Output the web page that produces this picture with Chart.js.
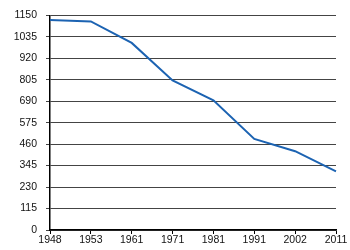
<!DOCTYPE html>
<html><head><meta charset="utf-8">
<script src="https://cdn.jsdelivr.net/npm/chart.js@4/dist/chart.umd.min.js"></script>
<style>html,body{margin:0;padding:0;background:#fff}#wrap{width:350px;height:250px}</style>
</head><body><div id="wrap"><canvas id="c" width="350" height="250"></canvas></div>
<script>
const years = ['1948','1953','1961','1971','1981','1991','2002','2011'];
const population = [1125, 1117, 1002, 801, 695, 488, 422, 314];
const yTicks = [0,115,230,345,460,575,690,805,920,1035,1150];

new Chart(document.getElementById('c'), {
  type: 'line',
  data: { labels: years, datasets: [{ data: population, borderColor: '#1c63b2', borderWidth: 2, pointRadius: 0, tension: 0, fill: false }] },
  options: {
    responsive: false, animation: false,
    layout: { padding: { top: 0, right: 14, left: 0, bottom: 2 } },
    plugins: { legend: { display: false }, tooltip: { enabled: false } },
    scales: {
      x: {
        offset: false,
        grid: { drawOnChartArea: false, drawTicks: true, tickLength: 4, tickColor: '#000' },
        border: { color: '#000', width: 1.5 },
        ticks: { color: '#111', font: { family: 'Liberation Sans', size: 10.5 }, padding: 0, maxRotation: 0, autoSkip: false },
        afterFit: s => { s.height = 18; }
      },
      y: {
        min: 0, max: 1150,
        afterBuildTicks: s => { s.ticks = yTicks.map(v => ({ value: v })); },
        grid: { color: '#444', tickLength: 4, tickColor: '#444' },
        border: { color: '#000', width: 1.5 },
        ticks: { color: '#111', font: { family: 'Liberation Sans', size: 10.5 }, padding: 9, callback: v => String(v) },
        afterFit: s => { s.width = 50; }
      }
    }
  }
});
</script></body></html>
